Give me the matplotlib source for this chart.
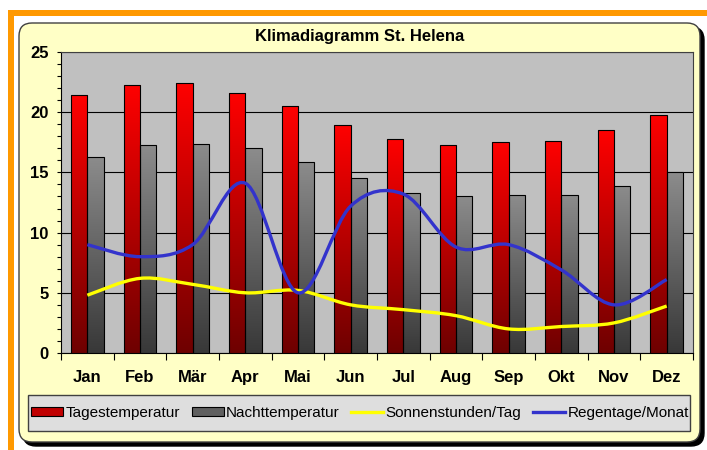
import numpy as np
import matplotlib.pyplot as plt
from matplotlib.path import Path
from matplotlib.patches import PathPatch, Rectangle, FancyBboxPatch, Patch
from matplotlib.lines import Line2D

plt.rcParams['font.family'] = ['Liberation Sans Narrow', 'Liberation Sans', 'DejaVu Sans']

months = ["Jan", "Feb", "Mär", "Apr", "Mai", "Jun", "Jul", "Aug", "Sep", "Okt", "Nov", "Dez"]
tag_temp = [21.4, 22.3, 22.4, 21.6, 20.5, 18.9, 17.8, 17.3, 17.5, 17.6, 18.5, 19.8]
nacht_temp = [16.3, 17.3, 17.4, 17.0, 15.9, 14.5, 13.3, 13.0, 13.1, 13.1, 13.9, 15.0]
sonne = [4.8, 6.2, 5.7, 5.0, 5.2, 4.0, 3.6, 3.1, 2.0, 2.2, 2.5, 3.9]
regen = [9.0, 8.0, 9.0, 14.1, 5.0, 12.2, 13.2, 8.8, 9.0, 6.9, 4.0, 6.1]


def smooth_path(xs, ys):
    # Bezier path through the points (like Excel's smoothed line)
    pts = np.column_stack([xs, ys]).astype(float)
    n = len(pts)
    verts = [pts[0]]
    codes = [Path.MOVETO]
    for i in range(n - 1):
        p0 = pts[max(i - 1, 0)]
        p1 = pts[i]
        p2 = pts[i + 1]
        p3 = pts[min(i + 2, n - 1)]
        c1 = p1 + (p2 - p0) / 6
        c2 = p2 - (p3 - p1) / 6
        verts += [c1, c2, p2]
        codes += [Path.CURVE4] * 3
    return Path(verts, codes)


W, H = 707, 450
fig = plt.figure(figsize=(W / 100, H / 100), dpi=100, facecolor="white")

# background decorations in pixel coordinates
bg = fig.add_axes([0, 0, 1, 1], zorder=-5)
bg.set_xlim(0, W)
bg.set_ylim(H, 0)
bg.axis("off")
bg.add_patch(Rectangle((8, 10), W - 8, 6, color="#FF9900", lw=0))
bg.add_patch(Rectangle((8, 10), 6, H - 10, color="#FF9900", lw=0))
bg.add_patch(FancyBboxPatch((23, 27), 681, 419, boxstyle="round,pad=0,rounding_size=13",
                            fc="black", ec="black", lw=1))
bg.add_patch(FancyBboxPatch((19, 23), 681, 419, boxstyle="round,pad=0,rounding_size=13",
                            fc="#FFFFC6", ec="#404040", lw=1))
bg.add_patch(Rectangle((28, 395), 662, 36, fc="#DEDEDE", ec="#404040", lw=1))
bg.text(360, 37, "Klimadiagramm St. Helena", ha="center", va="center",
        fontsize=12, fontweight="bold")

ax = fig.add_axes([61 / W, 1 - 353 / H, (693 - 61) / W, (353 - 52) / H])
ax.set_facecolor("#C0C0C0")

x = np.arange(len(months))
w = 0.31
red_bars = ax.bar(x - w / 2, tag_temp, w, color="#C00000", ec="black", lw=0.8, zorder=3)
gray_bars = ax.bar(x + w / 2, nacht_temp, w, color="#606060", ec="black", lw=0.8, zorder=3)

grad = np.linspace(0, 1, 256).reshape(-1, 1)
red_cmap = plt.matplotlib.colors.LinearSegmentedColormap.from_list("r", ["#6E0000", "#FF0000"])
gray_cmap = plt.matplotlib.colors.LinearSegmentedColormap.from_list("g", ["#383838", "#8C8C8C"])
for bars, cmap in [(red_bars, red_cmap), (gray_bars, gray_cmap)]:
    for b in bars:
        x0, y0 = b.get_x(), b.get_y()
        im = ax.imshow(grad, cmap=cmap, origin="lower", aspect="auto", zorder=3.5,
                       extent=[x0, x0 + b.get_width(), y0, y0 + b.get_height()])
        im.set_clip_path(b)
        b.set_facecolor("none")
        b.set_zorder(4)

ax.add_patch(PathPatch(smooth_path(x, sonne), fc="none", ec="#FFFF00", lw=2.4, zorder=5,
                       capstyle="butt"))
ax.add_patch(PathPatch(smooth_path(x, regen), fc="none", ec="#3333CC", lw=2.4, zorder=6,
                       capstyle="butt"))

ax.set_xlim(-0.5, len(months) - 0.5)
ax.set_ylim(0, 25)
ax.set_yticks(np.arange(0, 26, 5))
ax.set_yticks(np.arange(0, 26, 1), minor=True)
ax.set_xticks(np.arange(-0.5, len(months), 1))
ax.set_xticklabels([])
ax.set_xticks(x, minor=True)
ax.set_xticklabels(months, minor=True, fontweight="bold", fontsize=12)
ax.tick_params(axis="x", which="major", length=5, width=0.8, direction="out")
ax.tick_params(axis="x", which="minor", length=0, pad=12)
ax.tick_params(axis="y", which="both", length=3, width=0.8, direction="out", pad=6,
               labelsize=12)
for lbl in ax.get_yticklabels():
    lbl.set_fontweight("bold")
ax.grid(axis="y", which="major", color="black", lw=0.8, zorder=1)
ax.set_axisbelow(True)
for side in ["top", "right"]:
    ax.spines[side].set_color("#404040")
    ax.spines[side].set_linewidth(0.8)
for side in ["left", "bottom"]:
    ax.spines[side].set_color("black")
    ax.spines[side].set_linewidth(0.8)

handles = [
    Patch(fc="#C00000", ec="black", lw=0.8),
    Patch(fc="#606060", ec="black", lw=0.8),
    Line2D([], [], color="#FFFF00", lw=2.4),
    Line2D([], [], color="#3333CC", lw=2.4),
]
labels = ["Tagestemperatur", "Nachttemperatur", "Sonnenstunden/Tag", "Regentage/Monat"]
fig.legend(handles, labels, loc="center", bbox_to_anchor=(360 / W, 1 - 413 / H), ncol=4,
           frameon=False, fontsize=11, handlelength=2.1, handleheight=0.55,
           handletextpad=0.15, columnspacing=0.75)

fig.savefig("out.png", dpi=100, facecolor="white")
